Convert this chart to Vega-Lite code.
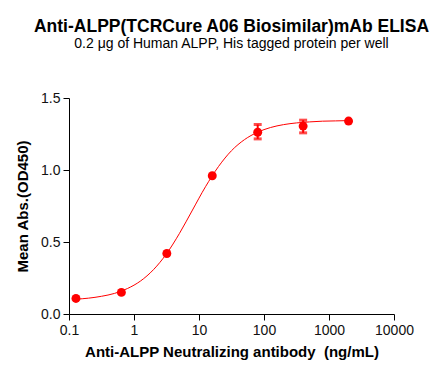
{
  "$schema": "https://vega.github.io/schema/vega-lite/v6.json",
  "width": 325,
  "height": 216,
  "autosize": {"type": "none"},
  "padding": {"left": 69, "top": 98, "right": 52, "bottom": 64},
  "background": "white",
  "title": {
    "text": "Anti-ALPP(TCRCure A06 Biosimilar)mAb ELISA",
    "subtitle": "0.2 μg of Human ALPP, His tagged protein per well",
    "font": "Liberation Sans",
    "fontSize": 17.5,
    "fontWeight": "bold",
    "color": "black",
    "subtitleFont": "Liberation Sans",
    "subtitleFontSize": 14,
    "subtitleColor": "black",
    "subtitlePadding": 2,
    "anchor": "middle",
    "offset": 40
  },
  "config": {
    "view": {"stroke": null},
    "axis": {
      "grid": false,
      "domainColor": "black",
      "tickColor": "black",
      "labelColor": "#111111",
      "titleColor": "black",
      "labelFont": "Liberation Sans",
      "titleFont": "Liberation Sans",
      "labelFontSize": 14,
      "titleFontSize": 15,
      "titleFontWeight": "bold",
      "labelFlush": false,
      "tickSize": 6,
      "domainWidth": 1,
      "tickWidth": 1
    }
  },
  "datasets": {
    "points": [
      {"conc": 0.128, "od": 0.108, "lo": 0.108, "hi": 0.108},
      {"conc": 0.64, "od": 0.150, "lo": 0.150, "hi": 0.150},
      {"conc": 3.2, "od": 0.420, "lo": 0.420, "hi": 0.420},
      {"conc": 16, "od": 0.960, "lo": 0.960, "hi": 0.960},
      {"conc": 80, "od": 1.262, "lo": 1.216, "hi": 1.316},
      {"conc": 400, "od": 1.305, "lo": 1.258, "hi": 1.346},
      {"conc": 2000, "od": 1.340, "lo": 1.340, "hi": 1.340}
    ],
    "curve": [
      {"conc": 0.128, "od": 0.103},
      {"conc": 0.1995, "od": 0.110},
      {"conc": 0.316, "od": 0.123},
      {"conc": 0.501, "od": 0.143},
      {"conc": 0.794, "od": 0.177},
      {"conc": 1.259, "od": 0.229},
      {"conc": 1.995, "od": 0.308},
      {"conc": 3.162, "od": 0.418},
      {"conc": 5.01, "od": 0.560},
      {"conc": 7.94, "od": 0.722},
      {"conc": 12.59, "od": 0.884},
      {"conc": 19.95, "od": 1.024},
      {"conc": 31.6, "od": 1.134},
      {"conc": 50.1, "od": 1.211},
      {"conc": 79.4, "od": 1.262},
      {"conc": 125.9, "od": 1.295},
      {"conc": 199.5, "od": 1.315},
      {"conc": 316, "od": 1.327},
      {"conc": 501, "od": 1.334},
      {"conc": 794, "od": 1.339},
      {"conc": 1259, "od": 1.341},
      {"conc": 2000, "od": 1.343}
    ]
  },
  "encoding": {
    "x": {
      "field": "conc",
      "type": "quantitative",
      "scale": {"type": "log", "domain": [0.1, 10000], "nice": false},
      "axis": {
        "title": "Anti-ALPP Neutralizing antibody \u00a0(ng/mL)",
        "values": [0.1, 1, 10, 100, 1000, 10000],
        "labelExpr": "datum.value < 1 ? '0.1' : format(datum.value, 'd')",
        "titlePadding": 7,
        "labelPadding": 3
      }
    }
  },
  "layer": [
    {
      "data": {"name": "curve"},
      "mark": {"type": "line", "color": "#ff0000", "strokeWidth": 1, "interpolate": "monotone"},
      "encoding": {
        "y": {
          "field": "od",
          "type": "quantitative",
          "scale": {"domain": [0, 1.5], "nice": false},
          "axis": {
            "title": "Mean Abs.(OD450)",
            "values": [0, 0.5, 1.0, 1.5],
            "format": ".1f",
            "titlePadding": 10,
            "labelPadding": 3
          }
        }
      }
    },
    {
      "data": {"name": "points"},
      "mark": {"type": "rule", "color": "#ff0000", "strokeWidth": 2},
      "encoding": {
        "y": {"field": "lo", "type": "quantitative"},
        "y2": {"field": "hi"}
      }
    },
    {
      "data": {"name": "points"},
      "transform": [{"filter": "datum.hi > datum.lo"}],
      "mark": {"type": "tick", "color": "#ff0000", "size": 8, "thickness": 3, "orient": "horizontal"},
      "encoding": {"y": {"field": "lo", "type": "quantitative"}}
    },
    {
      "data": {"name": "points"},
      "transform": [{"filter": "datum.hi > datum.lo"}],
      "mark": {"type": "tick", "color": "#ff0000", "size": 8, "thickness": 3, "orient": "horizontal"},
      "encoding": {"y": {"field": "hi", "type": "quantitative"}}
    },
    {
      "data": {"name": "points"},
      "mark": {"type": "point", "shape": "circle", "filled": true, "color": "#ff0000", "opacity": 1, "size": 80},
      "encoding": {"y": {"field": "od", "type": "quantitative"}}
    }
  ]
}
